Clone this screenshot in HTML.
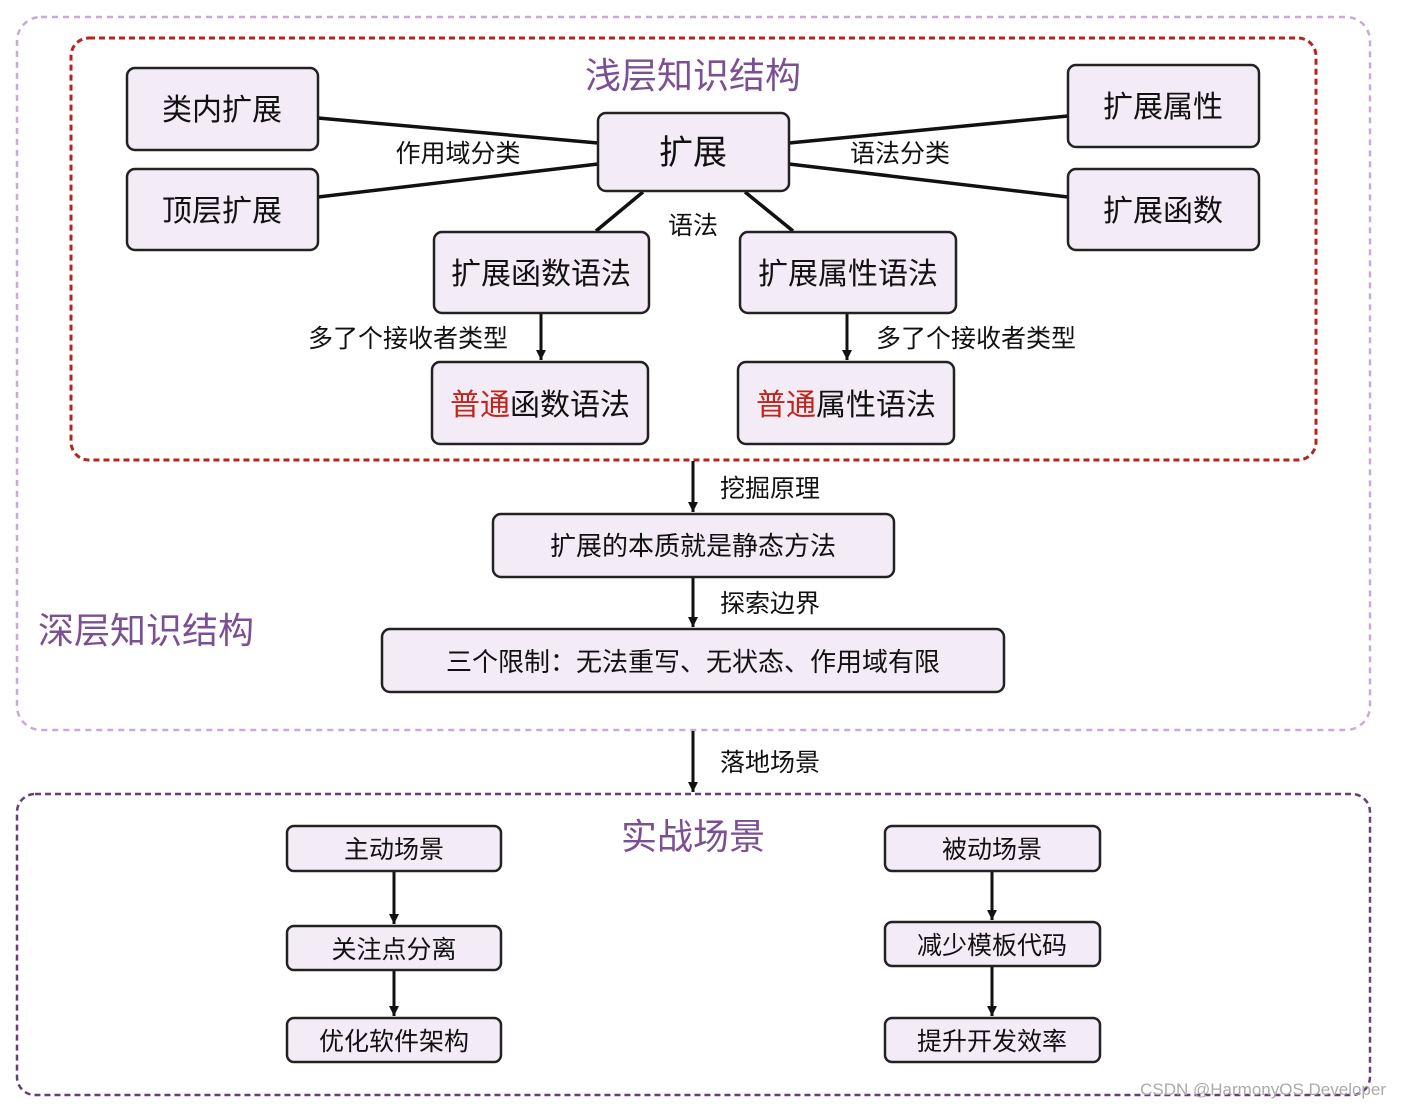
<!DOCTYPE html>
<html><head><meta charset="utf-8"><style>
html,body{margin:0;padding:0;background:#fff}
svg text{font-family:"Liberation Sans","Noto Sans CJK SC",sans-serif}
</style></head><body>
<svg width="1402" height="1108" viewBox="0 0 1402 1108" xmlns="http://www.w3.org/2000/svg">
<defs><marker id="a" markerWidth="10" markerHeight="12" refX="5" refY="11" orient="auto" markerUnits="userSpaceOnUse"><path d="M0,0 L10,0 L5,12 Z" transform="rotate(-90 5 6) translate(0 0)" fill="#111"/></marker>
<marker id="ar" viewBox="0 0 10 10" refX="10" refY="5" markerWidth="10" markerHeight="12" orient="auto" markerUnits="userSpaceOnUse"><path d="M0,0 L10,5 L0,10 Z" fill="#111"/></marker></defs>
<rect x="17" y="17" width="1353" height="713" rx="24" fill="none" stroke="#c9a9d9" stroke-width="2.5" stroke-dasharray="6,5"/>
<rect x="71" y="38" width="1245" height="422" rx="18" fill="none" stroke="#b3261e" stroke-width="3" stroke-dasharray="6,4"/>
<rect x="17" y="794" width="1353" height="301" rx="18" fill="none" stroke="#6a3d7a" stroke-width="2.5" stroke-dasharray="6,4"/>
<g stroke="#111" stroke-width="3.5">
<line x1="318" y1="118" x2="598" y2="143"/><line x1="318" y1="197" x2="598" y2="164"/>
<line x1="789" y1="143" x2="1068" y2="116"/><line x1="789" y1="164" x2="1068" y2="197"/>
<line x1="643" y1="192" x2="596" y2="231"/><line x1="745" y1="192" x2="793" y2="231"/>
</g>
<g stroke="#111" stroke-width="3" marker-end="url(#ar)">
<line x1="541" y1="314" x2="541" y2="360"/><line x1="847" y1="314" x2="847" y2="360"/>
<line x1="693" y1="461" x2="693" y2="512"/><line x1="693" y1="577" x2="693" y2="627"/>
<line x1="693" y1="731" x2="693" y2="792"/>
<line x1="394" y1="871" x2="394" y2="924"/><line x1="394" y1="970" x2="394" y2="1016"/>
<line x1="992" y1="871" x2="992" y2="920"/><line x1="992" y1="966" x2="992" y2="1016"/>
</g>
<g fill="#f3ebf6" stroke="#222" stroke-width="2.5">
<rect x="127" y="68" width="191" height="82" rx="8"/>
<rect x="127" y="169" width="191" height="81" rx="8"/>
<rect x="598" y="113" width="191" height="78" rx="8"/>
<rect x="1068" y="65" width="191" height="82" rx="8"/>
<rect x="1068" y="169" width="191" height="81" rx="8"/>
<rect x="434" y="232" width="215" height="81" rx="8"/>
<rect x="740" y="232" width="216" height="81" rx="8"/>
<rect x="432" y="362" width="216" height="82" rx="8"/>
<rect x="738" y="362" width="216" height="82" rx="8"/>
<rect x="493" y="514" width="401" height="63" rx="8"/>
<rect x="382" y="629" width="622" height="63" rx="8"/>
<rect x="287" y="826" width="214" height="45" rx="7"/>
<rect x="287" y="926" width="214" height="44" rx="7"/>
<rect x="287" y="1018" width="214" height="44" rx="7"/>
<rect x="885" y="826" width="215" height="45" rx="7"/>
<rect x="885" y="922" width="215" height="44" rx="7"/>
<rect x="885" y="1018" width="215" height="44" rx="7"/>
</g>
<g fill="#111" text-anchor="middle">
<text x="222" y="120" font-size="30">类内扩展</text>
<text x="222" y="221" font-size="30">顶层扩展</text>
<text x="693" y="164" font-size="34">扩展</text>
<text x="1163" y="117" font-size="30">扩展属性</text>
<text x="1163" y="221" font-size="30">扩展函数</text>
<text x="541" y="284" font-size="30">扩展函数语法</text>
<text x="848" y="284" font-size="30">扩展属性语法</text>
<text x="540" y="415" font-size="30"><tspan fill="#c0251b">普通</tspan>函数语法</text>
<text x="846" y="415" font-size="30"><tspan fill="#c0251b">普通</tspan>属性语法</text>
<text x="693" y="555" font-size="26">扩展的本质就是静态方法</text>
<text x="693" y="671" font-size="26">三个限制：无法重写、无状态、作用域有限</text>
<text x="394" y="858" font-size="25">主动场景</text>
<text x="394" y="958" font-size="25">关注点分离</text>
<text x="394" y="1050" font-size="25">优化软件架构</text>
<text x="992" y="858" font-size="25">被动场景</text>
<text x="992" y="954" font-size="25">减少模板代码</text>
<text x="992" y="1050" font-size="25">提升开发效率</text>
<text x="458" y="162" font-size="25">作用域分类</text>
<text x="900" y="162" font-size="25">语法分类</text>
<text x="693" y="234" font-size="25">语法</text>
<text x="408" y="347" font-size="25">多了个接收者类型</text>
<text x="976" y="347" font-size="25">多了个接收者类型</text>
</g>
<g fill="#111" font-size="25">
<text x="720" y="497">挖掘原理</text>
<text x="720" y="612">探索边界</text>
<text x="720" y="771">落地场景</text>
</g>
<g fill="#7b4f93" font-size="36">
<text x="693" y="88" text-anchor="middle">浅层知识结构</text>
<text x="38" y="643">深层知识结构</text>
<text x="693" y="849" text-anchor="middle">实战场景</text>
</g>
<text x="1386" y="1095" text-anchor="end" font-size="17" fill="#aaa">CSDN @HarmonyOS Developer</text>
</svg>
</body></html>
